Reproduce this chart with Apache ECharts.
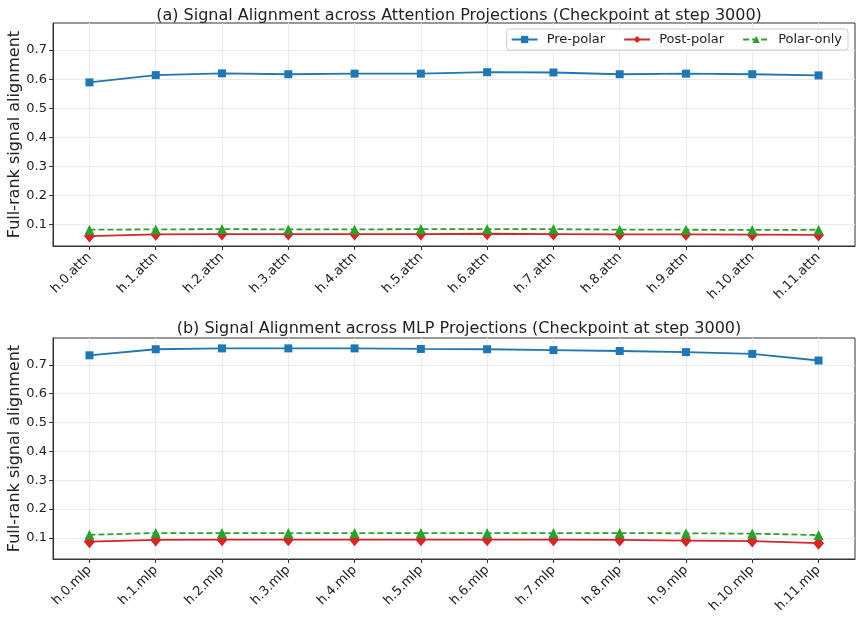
<!DOCTYPE html>
<html>
<head>
<meta charset="utf-8">
<script src="https://cdn.jsdelivr.net/npm/echarts@6/dist/echarts.min.js"></script>
<style>
  html, body { margin: 0; padding: 0; background: #fff; }
  #chart { width: 862px; height: 620px; }
</style>
</head>
<body>
<div id="chart"></div>
<script>
// categories
const attnLayers = ['h.0.attn', 'h.1.attn', 'h.2.attn', 'h.3.attn', 'h.4.attn', 'h.5.attn',
  'h.6.attn', 'h.7.attn', 'h.8.attn', 'h.9.attn', 'h.10.attn', 'h.11.attn']
const mlpLayers = ['h.0.mlp', 'h.1.mlp', 'h.2.mlp', 'h.3.mlp', 'h.4.mlp', 'h.5.mlp',
  'h.6.mlp', 'h.7.mlp', 'h.8.mlp', 'h.9.mlp', 'h.10.mlp', 'h.11.mlp']

// (a) attention
const attnPre = [0.589, 0.614, 0.620, 0.617, 0.619, 0.619, 0.624, 0.623, 0.617, 0.619, 0.617, 0.613]
const attnPost = [0.061, 0.067, 0.068, 0.068, 0.068, 0.068, 0.069, 0.068, 0.067, 0.067, 0.066, 0.065]
const attnPolar = [0.083, 0.084, 0.085, 0.084, 0.084, 0.085, 0.085, 0.085, 0.083, 0.083, 0.082, 0.083]

// (b) mlp
const mlpPre = [0.733, 0.754, 0.757, 0.757, 0.757, 0.755, 0.754, 0.751, 0.748, 0.744, 0.738, 0.715]
const mlpPost = [0.087, 0.093, 0.094, 0.094, 0.094, 0.094, 0.094, 0.094, 0.093, 0.091, 0.089, 0.082]
const mlpPolar = [0.111, 0.117, 0.117, 0.117, 0.117, 0.117, 0.117, 0.117, 0.117, 0.116, 0.115, 0.110]

const yTicks = [0.1, 0.2, 0.3, 0.4, 0.5, 0.6, 0.7]
const seriesNames = ['Pre-polar', 'Post-polar', 'Polar-only']
const colors = ['#1f77b4', '#d62728', '#2ca02c']

const font = 'DejaVu Sans'
const xIdx = attnLayers.map((c, i) => i)

function pairs (arr) {
  return arr.map((v, i) => [i, v])
}

function makeX (gridIndex, cats) {
  return {
    type: 'value',
    gridIndex: gridIndex,
    min: -0.55,
    max: 11.55,
    axisLine: { show: true, onZero: false, lineStyle: { color: '#333', width: 1 } },
    axisTick: { show: true, customValues: xIdx, length: 4, lineStyle: { color: '#333' } },
    axisLabel: {
      customValues: xIdx,
      rotate: 45,
      margin: 9,
      color: '#222',
      fontFamily: font,
      fontSize: 13,
      formatter: v => cats[Math.round(v)]
    },
    splitLine: { show: true, lineStyle: { color: '#ebebeb', width: 1 } }
  }
}

function makeY (gridIndex) {
  return {
    type: 'value',
    gridIndex: gridIndex,
    min: 0.027,
    max: 0.793,
    name: 'Full-rank signal alignment',
    nameLocation: 'middle',
    nameGap: 30,
    nameMoveOverlap: false,
    nameTextStyle: { fontFamily: font, fontSize: 16, color: '#222' },
    axisLine: { show: true, onZero: false, lineStyle: { color: '#333', width: 1 } },
    axisTick: { show: true, customValues: yTicks, length: 4, lineStyle: { color: '#333' } },
    axisLabel: {
      customValues: yTicks,
      margin: 6,
      color: '#222',
      fontFamily: font,
      fontSize: 13,
      formatter: v => v.toFixed(1)
    },
    splitLine: { show: true, lineStyle: { color: '#ebebeb', width: 1 } }
  }
}

function makeSeries (name, data, idx, axisIndex) {
  const symbols = ['rect', 'diamond', 'triangle']
  const sizes = [8, [11, 13], 10]
  return {
    name: name,
    type: 'line',
    xAxisIndex: axisIndex,
    yAxisIndex: axisIndex,
    data: pairs(data),
    symbol: symbols[idx],
    symbolSize: sizes[idx],
    showSymbol: true,
    color: colors[idx],
    itemStyle: { color: colors[idx] },
    lineStyle: { color: colors[idx], width: 1.8, type: idx === 2 ? [6, 3] : 'solid' },
    z: idx === 0 ? 3 : (idx === 1 ? 2 : 4),
    animation: false
  }
}

const chart = echarts.init(document.getElementById('chart'))
const option = {
  animation: false,
  backgroundColor: '#fff',
  title: [
    {
      text: '(a) Signal Alignment across Attention Projections (Checkpoint at step 3000)',
      left: 454, top: 3, textAlign: 'center',
      textStyle: { fontFamily: font, fontSize: 16, fontWeight: 'normal', color: '#222' }
    },
    {
      text: '(b) Signal Alignment across MLP Projections (Checkpoint at step 3000)',
      left: 454, top: 316, textAlign: 'center',
      textStyle: { fontFamily: font, fontSize: 16, fontWeight: 'normal', color: '#222' }
    }
  ],
  legend: {
    data: seriesNames,
    right: 14,
    top: 29,
    itemWidth: 26,
    itemHeight: 9,
    itemGap: 18,
    padding: [4, 6, 4, 4],
    backgroundColor: '#fff',
    borderColor: '#cccccc',
    borderWidth: 1,
    borderRadius: 3,
    textStyle: { fontFamily: font, fontSize: 13, color: '#222', padding: [0, 0, 0, 4] }
  },
  grid: [
    { left: 53, right: 7, top: 23, height: 223, outerBoundsMode: 'none', containLabel: false, show: true, borderColor: '#333', borderWidth: 1, backgroundColor: 'transparent' },
    { left: 53, right: 7, top: 338, height: 221, outerBoundsMode: 'none', containLabel: false, show: true, borderColor: '#333', borderWidth: 1, backgroundColor: 'transparent' }
  ],
  xAxis: [makeX(0, attnLayers), makeX(1, mlpLayers)],
  yAxis: [makeY(0), makeY(1)],
  series: [
    makeSeries('Pre-polar', attnPre, 0, 0),
    makeSeries('Post-polar', attnPost, 1, 0),
    makeSeries('Polar-only', attnPolar, 2, 0),
    makeSeries('Pre-polar', mlpPre, 0, 1),
    makeSeries('Post-polar', mlpPost, 1, 1),
    makeSeries('Polar-only', mlpPolar, 2, 1)
  ]
}
chart.setOption(option)
</script>
</body>
</html>
